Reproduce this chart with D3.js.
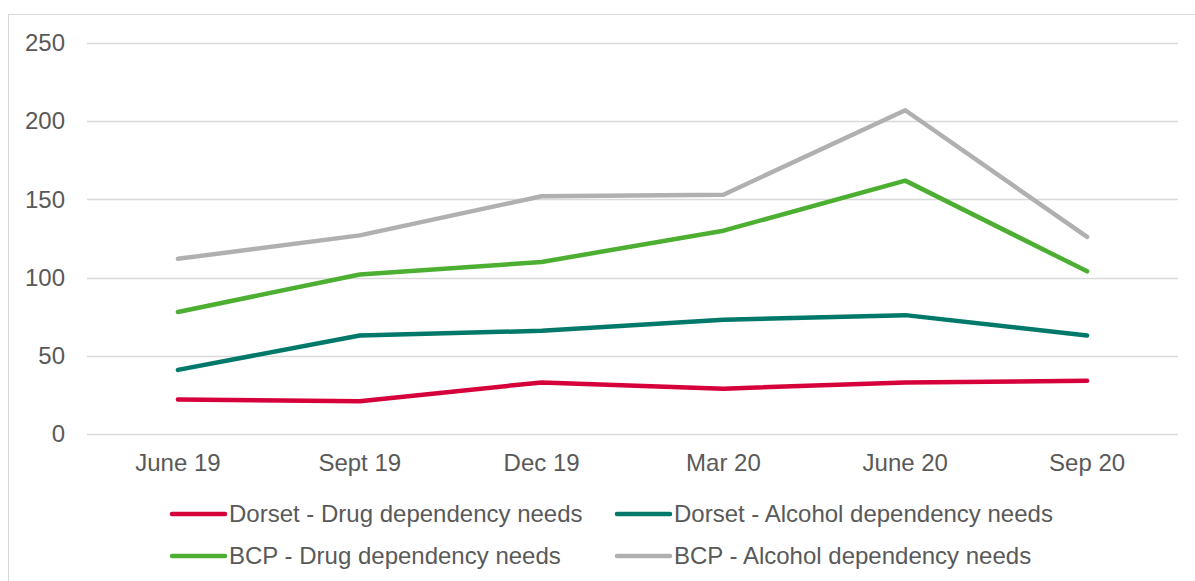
<!DOCTYPE html>
<html><head><meta charset="utf-8">
<script src="https://cdn.jsdelivr.net/npm/d3@7"></script>
<style>
html,body{margin:0;padding:0;background:#fff;}
svg{display:block;font-family:"Liberation Sans",Arial,sans-serif;}
</style></head>
<body>
<svg id="chart" width="1195" height="581"></svg>
<script>
const categories = ["June 19","Sept 19","Dec 19","Mar 20","June 20","Sep 20"];
const dorsetDrug = [22, 21, 33, 29, 33, 34];
const dorsetAlcohol = [41, 63, 66, 73, 76, 63];
const bcpDrug = [78, 102, 110, 130, 162, 104];
const bcpAlcohol = [112, 127, 152, 153, 207, 126];
const yTicks = [0, 50, 100, 150, 200, 250];
const seriesNames = ["Dorset - Drug dependency needs","Dorset - Alcohol dependency needs","BCP - Drug dependency needs","BCP - Alcohol dependency needs"];
const seriesColors = ["#D6003A","#00796A","#4DAF31","#B0B0B0"];

const series = [
  {name: seriesNames[0], values: dorsetDrug, color: seriesColors[0]},
  {name: seriesNames[1], values: dorsetAlcohol, color: seriesColors[1]},
  {name: seriesNames[2], values: bcpDrug, color: seriesColors[2]},
  {name: seriesNames[3], values: bcpAlcohol, color: seriesColors[3]}
];

const FONT = "'Liberation Sans',Arial,sans-serif";
const svg = d3.select("#chart");
svg.append("rect").attr("x", 8.5).attr("y", 14.5).attr("width", 1200).attr("height", 600)
  .attr("fill", "none").attr("stroke", "#d9d9d9").attr("stroke-width", 1);

const mLeft = 87, mRight = 1178, mTop = 43, mBottom = 434;
const x = d3.scaleBand().domain(categories).range([mLeft, mRight]);
const y = d3.scaleLinear().domain([0, 250]).range([mBottom, mTop]);

svg.append("g").selectAll("line").data(yTicks).join("line")
  .attr("x1", mLeft).attr("x2", mRight)
  .attr("y1", d => Math.round(y(d)) + 0.5).attr("y2", d => Math.round(y(d)) + 0.5)
  .attr("stroke", "#d9d9d9").attr("stroke-width", 1.3);

const yAxis = svg.append("g").attr("transform", `translate(${mLeft},0)`)
  .call(d3.axisLeft(y).tickValues(yTicks).tickSize(0).tickPadding(22));
yAxis.select(".domain").remove();
yAxis.selectAll("text").attr("font-size", 24).attr("fill", "#595959").attr("font-family", FONT);

const xAxis = svg.append("g").attr("transform", `translate(0,${mBottom})`)
  .call(d3.axisBottom(x).tickSize(0).tickPadding(20));
xAxis.select(".domain").remove();
xAxis.selectAll("text").attr("font-size", 24).attr("fill", "#595959").attr("font-family", FONT);

const line = d3.line()
  .x((d, i) => x(categories[i]) + x.bandwidth() / 2)
  .y(d => y(d));

svg.append("g").selectAll("path").data(series).join("path")
  .attr("d", d => line(d.values))
  .attr("fill", "none").attr("stroke", d => d.color)
  .attr("stroke-width", 4.5).attr("stroke-linecap", "round").attr("stroke-linejoin", "round");

const legendPos = [[170, 514], [615, 514], [170, 556], [615, 556]];
const lg = svg.append("g").selectAll("g").data(series).join("g")
  .attr("transform", (d, i) => `translate(${legendPos[i][0]},${legendPos[i][1]})`);
lg.append("line").attr("x1", 2).attr("x2", 55).attr("y1", 0).attr("y2", 0)
  .attr("stroke", d => d.color).attr("stroke-width", 4.5).attr("stroke-linecap", "round");
lg.append("text").attr("x", 59).attr("y", 8).attr("font-size", 24).attr("fill", "#595959")
  .attr("font-family", FONT).text(d => d.name);
</script>
</body></html>
